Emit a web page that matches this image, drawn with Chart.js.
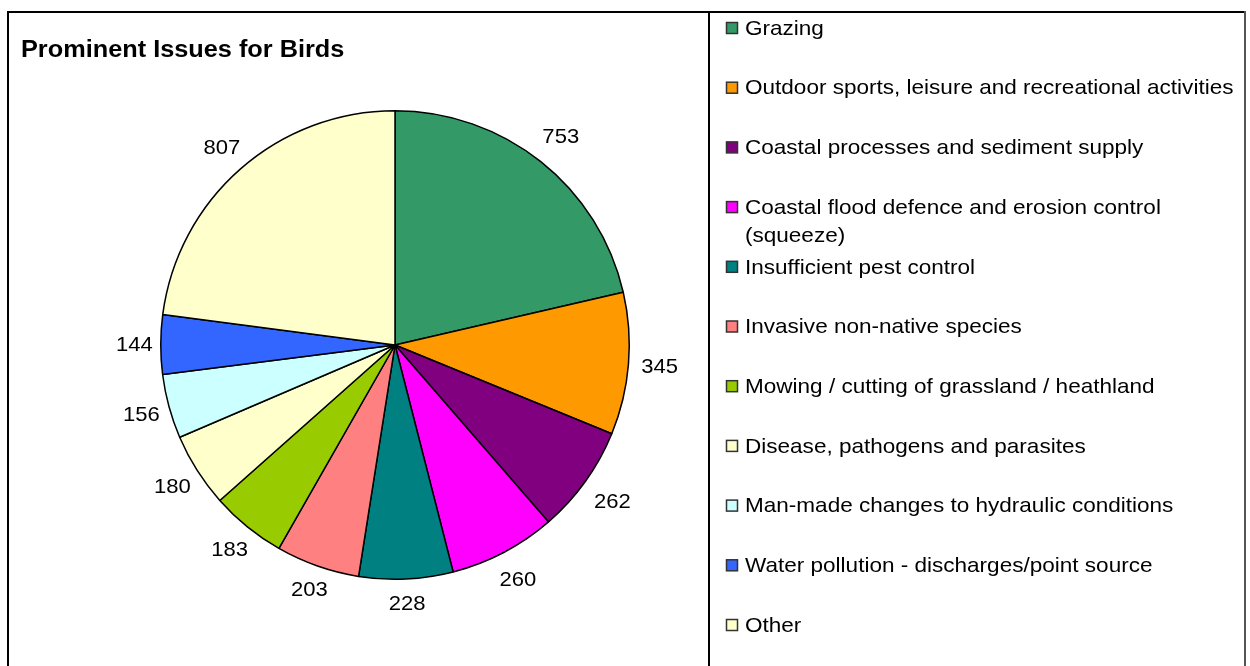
<!DOCTYPE html>
<html>
<head>
<meta charset="utf-8">
<title>Prominent Issues for Birds</title>
<script src="https://cdn.jsdelivr.net/npm/chart.js@4/dist/chart.umd.min.js"></script>
<style>
  html, body { margin: 0; padding: 0; background: #fff; }
  canvas { display: block; }
</style>
</head>
<body>
<canvas id="pie" width="1250" height="666"></canvas>
<script>
// Issue categories, in drawing order (clockwise from 12 o'clock)
const categories = [
  "Grazing",
  "Outdoor sports, leisure and recreational activities",
  "Coastal processes and sediment supply",
  ["Coastal flood defence and erosion control", "(squeeze)"],
  "Insufficient pest control",
  "Invasive non-native species",
  "Mowing / cutting of grassland / heathland",
  "Disease, pathogens and parasites",
  "Man-made changes to hydraulic conditions",
  "Water pollution - discharges/point source",
  "Other"
];

// Number of features affected by each issue
const counts = [753, 345, 262, 260, 228, 203, 183, 180, 156, 144, 807];

// Slice fill colours
const sliceColors = [
  "#339966", "#FF9900", "#800080", "#FF00FF", "#008080",
  "#FF8080", "#99CC00", "#FFFFCC", "#CCFFFF", "#3366FF", "#FFFFCC"
];

const chartTitle = "Prominent Issues for Birds";
const FONT = "'Liberation Sans', Arial, sans-serif";

// draw text slightly widened horizontally
function wideText(ctx, txt, x, y, sx, align) {
  ctx.save();
  ctx.translate(x, y);
  ctx.scale(sx, 1);
  ctx.textAlign = align;
  ctx.fillText(txt, 0, 0);
  ctx.restore();
}

// Frame, title and side legend
const framePlugin = {
  id: "frame",
  afterDraw(chart) {
    const ctx = chart.ctx;
    ctx.save();
    // outer frame + divider between plot and legend
    ctx.strokeStyle = "#000";
    ctx.lineWidth = 2;
    ctx.beginPath();
    ctx.moveTo(8, 666); ctx.lineTo(8, 12); ctx.lineTo(1245, 12);
    ctx.moveTo(709, 12); ctx.lineTo(709, 666);
    ctx.stroke();
    ctx.strokeStyle = "#555";
    ctx.lineWidth = 2;
    ctx.beginPath();
    ctx.moveTo(1245, 11); ctx.lineTo(1245, 666);
    ctx.stroke();

    // title
    ctx.fillStyle = "#000";
    ctx.font = "bold 23px " + FONT;
    ctx.textBaseline = "middle";
    wideText(ctx, chartTitle, 21, 51, 1.1, "left");

    // legend
    ctx.font = "21px " + FONT;
    const labels = chart.data.labels;
    const colors = chart.data.datasets[0].backgroundColor;
    labels.forEach((lab, i) => {
      const y = 28 + i * 59.7;
      ctx.fillStyle = colors[i];
      ctx.fillRect(726.5, y - 5.5, 11, 11);
      ctx.strokeStyle = "#333";
      ctx.lineWidth = 1.5;
      ctx.strokeRect(726.5, y - 5.5, 11, 11);
      ctx.fillStyle = "#000";
      const lines = Array.isArray(lab) ? lab : [lab];
      lines.forEach((ln, k) => wideText(ctx, ln, 745, y + 1 + k * 28, 1.073, "left"));
    });
    ctx.restore();
  }
};

// Value labels placed just outside each slice
const valueLabels = {
  id: "valueLabels",
  afterDatasetsDraw(chart) {
    const ctx = chart.ctx;
    const meta = chart.getDatasetMeta(0);
    const data = chart.data.datasets[0].data;
    ctx.save();
    ctx.font = "21px " + FONT;
    ctx.fillStyle = "#000";
    ctx.textBaseline = "middle";
    meta.data.forEach((arc, i) => {
      const p = arc.getProps(["x", "y", "startAngle", "endAngle", "outerRadius"], true);
      const mid = (p.startAngle + p.endAngle) / 2;
      const txt = String(data[i]);
      const hw = ctx.measureText(txt).width * 1.05 / 2;
      const hh = 11;
      const c = Math.cos(mid), s = Math.sin(mid);
      const gap = c < 0 ? 8 : 12;
      const d = p.outerRadius + gap + Math.abs(c) * hw + Math.abs(s) * hh;
      wideText(ctx, txt, p.x + c * d, p.y + s * d + 1, 1.05, "center");
    });
    ctx.restore();
  }
};

new Chart(document.getElementById("pie"), {
  type: "pie",
  data: {
    labels: categories,
    datasets: [{
      data: counts,
      backgroundColor: sliceColors,
      borderColor: "#000",
      borderWidth: 1.5
    }]
  },
  options: {
    responsive: false,
    animation: false,
    devicePixelRatio: 1,
    layout: { padding: { left: 160, top: 110, right: 620, bottom: 86 } },
    plugins: {
      legend: { display: false },
      tooltip: { enabled: false },
      title: { display: false }
    }
  },
  plugins: [valueLabels, framePlugin]
});
</script>
</body>
</html>
